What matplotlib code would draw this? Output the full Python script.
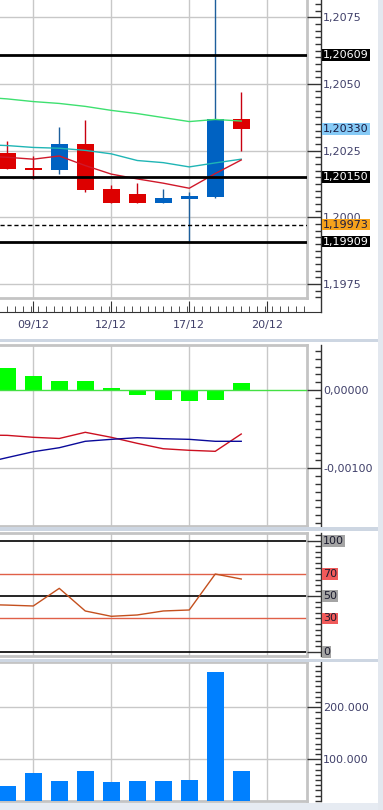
import matplotlib
matplotlib.use("Agg")
import matplotlib.pyplot as plt
from matplotlib.ticker import MultipleLocator, FuncFormatter
from matplotlib.patches import Rectangle
import numpy as np

# ---- data ----
days = np.arange(10)
ma_days = np.arange(-1, 10)          # indicator lines start one bar left of the view
date_pos = [1, 4, 7, 10]
date_labels = ["09/12", "12/12", "17/12", "20/12"]

opens  = [1.20242, 1.20185, 1.20177, 1.20276, 1.20107, 1.20087, 1.20055, 1.20070, 1.20077, 1.20369]
highs  = [1.20286, 1.20230, 1.20340, 1.20365, 1.20122, 1.20130, 1.20106, 1.20094, 1.20900, 1.20470]
lows   = [1.20182, 1.20142, 1.20162, 1.20096, 1.20053, 1.20055, 1.20055, 1.19909, 1.20071, 1.20248]
closes = [1.20182, 1.20177, 1.20276, 1.20104, 1.20053, 1.20055, 1.20072, 1.20080, 1.20368, 1.20330]

ma_green = [1.20451, 1.20444, 1.20434, 1.20427, 1.20416, 1.20401, 1.20389, 1.20374, 1.20359, 1.20367, 1.20361]
ma_cyan  = [1.20273, 1.20269, 1.20262, 1.20259, 1.20251, 1.20238, 1.20213, 1.20205, 1.20189, 1.20204, 1.20218]
ma_red   = [1.20230, 1.20225, 1.20218, 1.20230, 1.20194, 1.20162, 1.20144, 1.20128, 1.20109, 1.20164, 1.20215]

solid_levels = [1.20609, 1.20150, 1.19909]
dashed_level = 1.19973
last_price = 1.20330

macd_hist = [0.000285, 0.000183, 0.000119, 0.000119, 0.000022, -0.000064, -0.000128, -0.000140, -0.000128, 0.000089]
macd_red  = [-0.000575, -0.000579, -0.000604, -0.000619, -0.000540, -0.000604, -0.000681, -0.000750, -0.000770, -0.000783, -0.000562]
macd_blue = [-0.000940, -0.000863, -0.000788, -0.000737, -0.000655, -0.000630, -0.000609, -0.000622, -0.000630, -0.000655, -0.000655]

rsi = [42.6, 42.0, 41.2, 57.1, 36.7, 31.9, 33.1, 36.7, 37.6, 70.0, 65.5]
rsi_levels = [100, 70, 50, 30, 0]

volume = [48700, 73600, 58300, 77500, 56400, 58300, 58300, 60200, 267900, 77500]

# ---- style ----
W, H = 383, 810
PT = 0.72                      # points per pixel at dpi 100
XLIM = (-0.28, 11.53)
FRAME = "#c4c4c4"
GRID = "#c8c8c8"
TXT = "#40406a"
RED = "#dd0000"
BLUE = "#0062c2"
BAR_W = 0.64

plt.rcParams["font.family"] = ["DejaVu Sans"]
fig = plt.figure(figsize=(W / 100, H / 100), dpi=100)
fig.patch.set_facecolor("white")


def px_axes(top, bottom):
    return fig.add_axes([0, (H - bottom) / H, 307 / W, (bottom - top) / H])


def setup(ax, ylim, top_frame=True):
    ax.set_xlim(XLIM)
    ax.set_ylim(ylim)
    ax.spines["left"].set_visible(False)
    ax.spines["top"].set_visible(top_frame)
    for s in ["top", "right", "bottom"]:
        ax.spines[s].set_color(FRAME)
        ax.spines[s].set_linewidth(2)
    ax.set_xticks(date_pos)
    ax.tick_params(length=0, labelleft=False, labelbottom=False)
    ax.grid(axis="x", color=GRID, lw=1)
    ax.set_axisbelow(True)

    axr = ax.twinx()
    axr.set_ylim(ylim)
    for s in ["left", "top", "bottom"]:
        axr.spines[s].set_visible(False)
    axr.spines["right"].set_position(("outward", 14 * PT))
    axr.spines["right"].set_color("#333333")
    axr.spines["right"].set_linewidth(1)
    axr.tick_params(axis="y", which="major", direction="in", length=14 * PT, width=1,
                    color="#333333", labelsize=8, labelcolor=TXT, pad=2 * PT)
    axr.tick_params(axis="y", which="minor", direction="in", length=6 * PT, width=1,
                    color="#333333")
    return axr


def box_label(axr, y, text, fc, tc):
    axr.text(323 / 307, y, text, transform=axr.get_yaxis_transform(), ha="left", va="center",
             fontsize=8, color=tc, clip_on=False, zorder=10,
             bbox=dict(boxstyle="square,pad=0.08", fc=fc, ec="none"))


# ---- price panel ----
ax1 = px_axes(0, 298)
ylim1 = (1.196974, 1.208149)
ax1r = setup(ax1, ylim1, top_frame=False)
ax1.yaxis.set_major_locator(MultipleLocator(0.0025))
ax1.grid(axis="y", color=GRID, lw=1)

up = [c >= o for o, c in zip(opens, closes)]
cols = [BLUE if u else RED for u in up]
wick_cols = ["#1d5f9c" if u else "#c80010" for u in up]
ax1.vlines(days, lows, highs, colors=wick_cols, lw=1, zorder=2)
bottoms = [min(o, c) for o, c in zip(opens, closes)]
heights = [max(abs(c - o), 0.00006) for o, c in zip(opens, closes)]
ax1.bar(days, heights, bottom=bottoms, width=BAR_W, color=cols, zorder=3)

ax1.plot(ma_days, ma_green, color="#3ee070", lw=1, zorder=4)
ax1.plot(ma_days, ma_cyan, color="#1fb5b5", lw=1, zorder=4)
ax1.plot(ma_days, ma_red, color="#d0182a", lw=1, zorder=4)
for lv in solid_levels:
    ax1.axhline(lv, color="black", lw=2, zorder=5)
ax1.axhline(dashed_level, color="black", lw=1, ls=(0, (3, 2)), zorder=5)

ax1r.yaxis.set_major_locator(MultipleLocator(0.0025))
ax1r.yaxis.set_minor_locator(MultipleLocator(0.00025))
ax1r.yaxis.set_major_formatter(FuncFormatter(lambda v, p: f"{v:.4f}".replace(".", ",")))
ax1r.spines["right"].set_bounds(ylim1[0] - 0.000514, ylim1[1])

box_label(ax1r, solid_levels[0], "1,20609", "black", "white")
box_label(ax1r, last_price, "1,20330", "#86caf6", "#1a1a40")
box_label(ax1r, solid_levels[1], "1,20150", "black", "white")
box_label(ax1r, dashed_level, "1,19973", "#f5a21c", "#1a1a40")
box_label(ax1r, solid_levels[2], "1,19909", "black", "white")

axb = ax1.twiny()
axb.set_xlim(XLIM)
for s in ["left", "top", "right"]:
    axb.spines[s].set_visible(False)
axb.spines["bottom"].set_position(("outward", 13.7 * PT))
axb.spines["bottom"].set_color("#333333")
axb.spines["bottom"].set_bounds(XLIM[0], XLIM[1] + 0.54)
axb.xaxis.set_ticks_position("bottom")
axb.xaxis.set_label_position("bottom")
axb.set_xticks(date_pos)
axb.set_xticklabels(date_labels)
axb.xaxis.set_minor_locator(MultipleLocator(0.3))
axb.tick_params(axis="x", which="major", direction="in", length=11 * PT, color="#333333",
                labelsize=8, labelcolor=TXT, pad=8 * PT)
axb.tick_params(axis="x", which="minor", direction="in", length=6 * PT, color="#333333")

# ---- MACD panel ----
ax2 = px_axes(345, 525.7)
ylim2 = (-0.001733, 0.000575)
ax2r = setup(ax2, ylim2)
ax2.set_yticks([-0.001])
ax2.grid(axis="y", color=GRID, lw=1)
ax2.bar(days, macd_hist, width=BAR_W, color="#00ff00", zorder=3)
ax2.axhline(0, color="#44e044", lw=1, zorder=3)
ax2.plot(ma_days, macd_red, color="#cc1020", lw=1, zorder=4)
ax2.plot(ma_days, macd_blue, color="#0a0a9a", lw=1, zorder=4)
ax2r.yaxis.set_major_locator(MultipleLocator(0.001))
ax2r.yaxis.set_minor_locator(MultipleLocator(0.0001))


def macd_fmt(v, p):
    if abs(v) < 1e-9:
        v = 0.0
    return f"{v:.5f}".replace(".", ",")


ax2r.yaxis.set_major_formatter(FuncFormatter(macd_fmt))

# ---- RSI panel ----
ax3 = px_axes(533.3, 655.7)
ylim3 = (-3.6, 106.7)
ax3r = setup(ax3, ylim3)
ax3.set_yticks([])
for lv in rsi_levels:
    if lv in (70, 30):
        ax3.axhline(lv, color="#e06048", lw=1, zorder=2)
    else:
        ax3.axhline(lv, color="black", lw=1.2, zorder=2)
ax3.plot(ma_days, rsi, color="#c4501e", lw=1, zorder=4)
ax3r.set_yticks([0, 50, 100])
ax3r.yaxis.set_minor_locator(MultipleLocator(5))
ax3r.tick_params(axis="y", labelright=False)
for lv in rsi_levels:
    fc = "#f05a5a" if lv in (70, 30) else "#a4a4a4"
    box_label(ax3r, lv, str(lv), fc, "#1a1a2e")

# ---- volume panel ----
ax4 = px_axes(662, 801)
ylim4 = (19800, 287000)
ax4r = setup(ax4, ylim4)
ax4.set_yticks([100000, 200000])
ax4.grid(axis="y", color=GRID, lw=1)
ax4.bar(days, volume, width=BAR_W, color="#0080ff", zorder=3)
ax4r.yaxis.set_major_locator(MultipleLocator(100000))
ax4r.yaxis.set_minor_locator(MultipleLocator(10000))
ax4r.yaxis.set_major_formatter(FuncFormatter(lambda v, p: f"{int(round(v)):,}".replace(",", ".")))

# ---- separator bands ----
band = "#cdd6e2"
for top, bottom in [(339, 342.3), (527, 530.5), (658.5, 661.5)]:
    fig.add_artist(Rectangle((0, (H - bottom) / H), 378 / W, (bottom - top) / H,
                             transform=fig.transFigure, fc=band, ec="none"))
fig.add_artist(Rectangle((0, 0), 1, 7 / H, transform=fig.transFigure, fc="#e6ebf2", ec="none"))
fig.add_artist(Rectangle((378 / W, 0), 5 / W, 1, transform=fig.transFigure, fc="#e3e8ef", ec="none"))

fig.savefig("out.png", dpi=100, facecolor=fig.get_facecolor())
